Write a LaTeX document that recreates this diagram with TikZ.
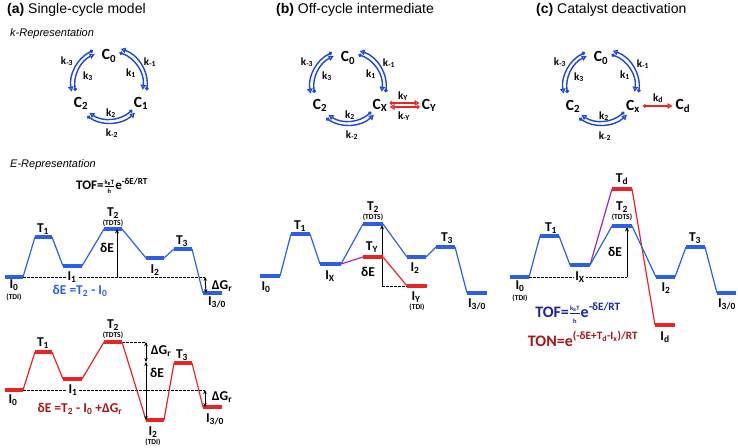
\documentclass[tikz,border=0pt]{standalone}
\usepackage{fontspec}
\setmainfont{Liberation Sans}
\newfontfamily\carl{Carlito}
\usetikzlibrary{arrows.meta}
\definecolor{cycblue}{RGB}{30,70,215}
\definecolor{pblue}{RGB}{45,95,230}
\definecolor{pred}{RGB}{235,35,35}
\definecolor{dred}{RGB}{165,20,25}
\definecolor{dblue}{RGB}{25,35,160}
\definecolor{ppurple}{RGB}{150,40,200}
\tikzset{
 cyc/.style={cycblue, line width=1.4pt, {Circle[length=3.5pt]}-{Triangle[open,length=5pt,width=5.5pt]}},
 redarr/.style={pred, line width=1.3pt, {Circle[length=3.5pt]}-{Triangle[open,length=5pt,width=5.5pt]}},
 clab/.style={font=\carl\bfseries\fontsize{15.5}{15}\selectfont, inner sep=0pt},
 klab/.style={font=\carl\bfseries\fontsize{11}{11}\selectfont, inner sep=0pt},
 elab/.style={font=\carl\bfseries\fontsize{13.5}{13}\selectfont, inner sep=0pt},
 slab/.style={font=\carl\bfseries\fontsize{7.5}{7}\selectfont, inner sep=0pt},
 flab/.style={font=\carl\bfseries\fontsize{13}{13}\selectfont, inner sep=0pt},
 glab/.style={font=\carl\bfseries\fontsize{16}{16}\selectfont, inner sep=0pt},
 title/.style={font=\fontsize{14}{14}\selectfont, inner sep=0pt, anchor=base west},
 rep/.style={font=\itshape\fontsize{11}{11}\selectfont, inner sep=0pt, anchor=base west},
 bbar/.style={pblue, line width=3.5pt},
 rbar/.style={pred, line width=3.5pt},
 bcon/.style={pblue, line width=1.2pt},
 rcon/.style={pred, line width=1.2pt},
 mcon/.style={ppurple, line width=1.2pt},
 dashline/.style={black, dash pattern=on 2.5pt off 1.5pt, line width=0.8pt},
 varr/.style={black, line width=0.9pt, -{Stealth[length=4.5pt,width=4pt]}},
 dvarr/.style={black, line width=0.9pt, {Stealth[length=4pt,width=3.5pt]}-{Stealth[length=4pt,width=3.5pt]}},
 wlab/.style={fill=white, inner xsep=1.5pt, inner ysep=0pt},
}
\newcommand\sub[1]{\textsubscript{#1}}
\newcommand\cyclearcs{%
 \draw[cyc] (72:34) arc[start angle=72,end angle=-8,radius=34];
 \draw[cyc] (-8:38) arc[start angle=-8,end angle=72,radius=38];
 \draw[cyc] (-47:34) arc[start angle=-47,end angle=-125,radius=34];
 \draw[cyc] (-125:38) arc[start angle=-125,end angle=-47,radius=38];
 \draw[cyc] (190:34) arc[start angle=190,end angle=115,radius=34];
 \draw[cyc] (115:38) arc[start angle=115,end angle=190,radius=38];
}
\newcommand\lev[4]{\coordinate (#1l) at (#2,#4); \coordinate (#1r) at (#3,#4);}
\newcommand\frc{$\frac{\mbox{\fontsize{6.5}{6}\selectfont k\sub{B}T}}{\mbox{\fontsize{6.5}{6}\selectfont h}}$}
\begin{document}
\begin{tikzpicture}[x=1pt,y=-1pt]
\useasboundingbox (0,0) rectangle (738,447);
% titles
\node[title] (ta) at (7,13) {\textbf{(a)} Single-cycle model};
\node[title] (tb) at (276,13) {\textbf{(b)} Off-cycle intermediate};
\node[title] (tc) at (536,13) {\textbf{(c)} Catalyst deactivation};
\node[rep] (kr) at (10,36) {k-Representation};
\node[rep] (er) at (10,167) {E-Representation};
% cycles
\begin{scope}[shift={(109,85)}, y=1pt]\cyclearcs\end{scope}
\begin{scope}[shift={(348,87)}, y=1pt]\cyclearcs\end{scope}
\begin{scope}[shift={(601,87)}, y=1pt]\cyclearcs\end{scope}
% cycle (a) labels
\node[clab] (aC0) at (109,56) {C\sub{0}};
\node[clab] (aC1) at (141,103) {C\sub{1}};
\node[clab] (aC2) at (81,103) {C\sub{2}};
\node[klab] (akm3) at (67,61) {k\sub{-3}};
\node[klab] (ak3) at (88,76) {k\sub{3}};
\node[klab] (akm1) at (150,62) {k\sub{-1}};
\node[klab] (ak1) at (131,73) {k\sub{1}};
\node[klab] (ak2) at (111,113) {k\sub{2}};
\node[klab] (akm2) at (112,133) {k\sub{-2}};
% cycle (b) labels
\node[clab] (bC0) at (348,58) {C\sub{0}};
\node[clab] (bCx) at (380,105) {C\sub{X}};
\node[clab] (bC2) at (320,105) {C\sub{2}};
\node[clab] (bCy) at (429,105) {C\sub{Y}};
\node[klab] (bkm3) at (307,62) {k\sub{-3}};
\node[klab] (bk3) at (327,76) {k\sub{3}};
\node[klab] (bkm1) at (389,63) {k\sub{-1}};
\node[klab] (bk1) at (371,74) {k\sub{1}};
\node[klab] (bk2) at (350,115) {k\sub{2}};
\node[klab] (bkm2) at (352,135) {k\sub{-2}};
\node[klab] (bky) at (403,96) {k\sub{Y}};
\node[klab] (bkmy) at (404,116) {k\sub{-Y}};
\draw[redarr] ([shift={(2pt,2pt)}]bCx.east) -- ([shift={(-2pt,2pt)}]bCy.west);
\draw[redarr] ([shift={(-2pt,-2pt)}]bCy.west) -- ([shift={(2pt,-2pt)}]bCx.east);
% cycle (c) labels
\node[clab] (cC0) at (601,58) {C\sub{0}};
\node[clab] (cCx) at (633,106) {C\sub{x}};
\node[clab] (cC2) at (573,106) {C\sub{2}};
\node[clab] (cCd) at (683,106) {C\sub{d}};
\node[klab] (ckm3) at (560,62) {k\sub{-3}};
\node[klab] (ck3) at (579,77) {k\sub{3}};
\node[klab] (ckm1) at (643,64) {k\sub{-1}};
\node[klab] (ck1) at (625,75) {k\sub{1}};
\node[klab] (ck2) at (604,116) {k\sub{2}};
\node[klab] (ckm2) at (605,136) {k\sub{-2}};
\node[klab] (ckd) at (658,98) {k\sub{d}};
\draw[redarr] ([xshift=3pt]cCx.east) -- ([xshift=-3pt]cCd.west);

% ===== (a) top profile =====
\lev{aI0}{5}{23}{277} \lev{aT1}{35}{52}{237} \lev{aI1}{63}{82}{266}
\lev{aT2}{104}{122}{229} \lev{aI2}{146}{164}{258} \lev{aT3}{174}{192}{249}
\lev{aI3}{203}{222}{293}
\coordinate (aDe) at (205,277); \coordinate (aVb) at (117,277); \coordinate (aVt) at (117,229);
\coordinate (aGb) at (206,293);
\draw[dashline] (aI0r) -- (aDe);
\draw[bcon] (aI0r)--(aT1l) (aT1r)--(aI1l) (aI1r)--(aT2l) (aT2r)--(aI2l) (aI2r)--(aT3l) (aT3r)--(aI3l);
\foreach \n in {aI0,aT1,aI1,aT2,aI2,aT3,aI3} \draw[bbar] (\n l)--(\n r);
\draw[varr] (aVb) -- (aVt);
\draw[dvarr] (aDe) -- (aGb);
\node[elab] (laI0) at (14,285) {I\sub{0}};
\node[slab] (laTDI) at (14,297) {(TDI)};
\node[elab] (laT1) at (43,229) {T\sub{1}};
\node[elab,wlab] (laI1) at (72,277) {I\sub{1}};
\node[elab] (laT2) at (113,213) {T\sub{2}};
\node[slab] (laTDTS) at (113,223) {(TDTS)};
\node[elab] (laI2) at (155,270) {I\sub{2}};
\node[elab] (laT3) at (182,241) {T\sub{3}};
\node[elab] (laI3) at (217,302) {I\sub{3/0}};
\node[elab] (laG) at (222,286) {ΔG\sub{r}};
\node[elab] (laDE) at (107,248) {δE};
\node[flab] (laTOF) at (112,186) {TOF=\frc e\textsuperscript{-δE/RT}};
\node[elab, pblue] (laEq) at (80,291) {δE =T\sub{2} - I\sub{0}};

% ===== (a) bottom profile =====
\lev{rI0}{5}{23}{390} \lev{rT1}{35}{52}{352} \lev{rI1}{63}{82}{379}
\lev{rT2}{104}{122}{342} \lev{rI2}{146}{164}{420} \lev{rT3}{174}{192}{363}
\lev{rI3}{203}{222}{407}
\coordinate (rDe) at (205,390); \coordinate (rGb) at (205,407);
\coordinate (rVt) at (146,342); \coordinate (rVm) at (146,362); \coordinate (rVb) at (146,420);
\draw[dashline] (rI0r) -- (rDe);
\draw[dashline] (rT2r) -- (rVt);
\draw[rcon] (rI0r)--(rT1l) (rT1r)--(rI1l) (rI1r)--(rT2l) (rT2r)--(rI2l) (rI2r)--(rT3l) (rT3r)--(rI3l);
\foreach \n in {rI0,rT1,rI1,rT2,rI2,rT3,rI3} \draw[rbar] (\n l)--(\n r);
\draw[dvarr] (rVt) -- (rVm);
\draw[dvarr] (rVm) -- (rVb);
\draw[dvarr] (rDe) -- (rGb);
\node[elab] (lrI0) at (13,400) {I\sub{0}};
\node[elab] (lrT1) at (43,343) {T\sub{1}};
\node[elab,wlab] (lrI1) at (73,390) {I\sub{1}};
\node[elab] (lrT2) at (113,325) {T\sub{2}};
\node[slab] (lrTDTS) at (113,335) {(TDTS)};
\node[elab] (lrI2) at (153,432) {I\sub{2}};
\node[slab] (lrTDI) at (153,442) {(TDI)};
\node[elab] (lrT3) at (182,355) {T\sub{3}};
\node[elab] (lrI3) at (215,419) {I\sub{3/0}};
\node[elab] (lrG1) at (161,351) {ΔG\sub{r}};
\node[elab] (lrDE) at (157,373) {δE};
\node[elab] (lrG2) at (222,397) {ΔG\sub{r}};
\node[elab, dred] (lrEq) at (80,409) {δE =T\sub{2} - I\sub{0} +ΔG\sub{r}};

% ===== (b) profile =====
\lev{bI0}{260}{280}{276} \lev{bT1}{291}{310}{234} \lev{bIx}{320}{341}{264}
\lev{bT2}{363}{383}{224} \lev{bI2}{407}{426}{257} \lev{bT3}{436}{455}{247}
\lev{bI3}{467}{487}{293} \lev{bTy}{363}{383}{257} \lev{bIy}{407}{427}{286}
\coordinate (bVb) at (382,286); \coordinate (bVt) at (382,225);
\draw[bcon] (bI0r)--(bT1l) (bT1r)--(bIxl) (bIxr)--(bT2l) (bT2r)--(bI2l) (bI2r)--(bT3l) (bT3r)--(bI3l);
\draw[mcon] (bIxr)--(bTyl);
\draw[rcon] (bTyr)--(bIyl);
\draw[dashline] (bVb) -- (bIyl);
\draw[varr] (bVb) -- (bVt);
\foreach \n in {bI0,bT1,bIx,bT2,bI2,bT3,bI3} \draw[bbar] (\n l)--(\n r);
\foreach \n in {bTy,bIy} \draw[rbar] (\n l)--(\n r);
\node[elab] (lbI0) at (266,287) {I\sub{0}};
\node[elab] (lbT1) at (300,226) {T\sub{1}};
\node[elab] (lbIx) at (330,276) {I\sub{X}};
\node[elab] (lbT2) at (373,207) {T\sub{2}};
\node[slab] (lbTDTS) at (373,217) {(TDTS)};
\node[elab] (lbTy) at (372,247) {T\sub{Y}};
\node[elab] (lbDE) at (368,272) {δE};
\node[elab] (lbI2) at (415,268) {I\sub{2}};
\node[elab] (lbT3) at (447,238) {T\sub{3}};
\node[elab] (lbIy) at (416,297) {I\sub{Y}};
\node[slab] (lbTDI) at (417,307) {(TDI)};
\node[elab] (lbI3) at (477,304) {I\sub{3/0}};

% ===== (c) profile =====
\lev{cI0}{510}{529}{277} \lev{cT1}{540}{559}{236} \lev{cIx}{570}{590}{265}
\lev{cT2}{612}{632}{226} \lev{cI2}{656}{675}{277} \lev{cT3}{686}{705}{247}
\lev{cI3}{717}{736}{293} \lev{cTd}{612}{632}{189} \lev{cId}{655}{675}{325}
\coordinate (cVb) at (627,277); \coordinate (cVt) at (627,227);
\draw[dashline] (cI0r) -- (cVb);
\draw[varr] (cVb) -- (cVt);
\draw[mcon] (cIxr)--(cTdl);
\draw[rcon] (cTdr)--(cIdl);
\draw[bcon] (cI0r)--(cT1l) (cT1r)--(cIxl) (cIxr)--(cT2l) (cT2r)--(cI2l) (cI2r)--(cT3l) (cT3r)--(cI3l);
\foreach \n in {cI0,cT1,cIx,cT2,cI2,cT3,cI3} \draw[bbar] (\n l)--(\n r);
\foreach \n in {cTd,cId} \draw[rbar] (\n l)--(\n r);
\node[elab] (lcI0) at (520,286) {I\sub{0}};
\node[slab] (lcTDI) at (520,298) {(TDI)};
\node[elab] (lcT1) at (551,228) {T\sub{1}};
\node[elab,wlab] (lcIx) at (580,277) {I\sub{X}};
\node[elab] (lcTd) at (622,179) {T\sub{d}};
\node[elab] (lcT2) at (622,207) {T\sub{2}};
\node[slab] (lcTDTS) at (622,217) {(TDTS)};
\node[elab] (lcDE) at (615,252) {δE};
\node[elab] (lcI2) at (666,288) {I\sub{2}};
\node[elab] (lcT3) at (695,238) {T\sub{3}};
\node[elab] (lcI3) at (727,304) {I\sub{3/0}};
\node[elab] (lcId) at (665,337) {I\sub{d}};
\node[glab, dblue] (lcTOF) at (578,313) {TOF=\frc e\textsuperscript{-δE/RT}};
\node[glab, dred] (lcTON) at (583,339) {TON=e\textsuperscript{(-δE+T\sub{d}-I\sub{x})/RT}};
\end{tikzpicture}
\end{document}
